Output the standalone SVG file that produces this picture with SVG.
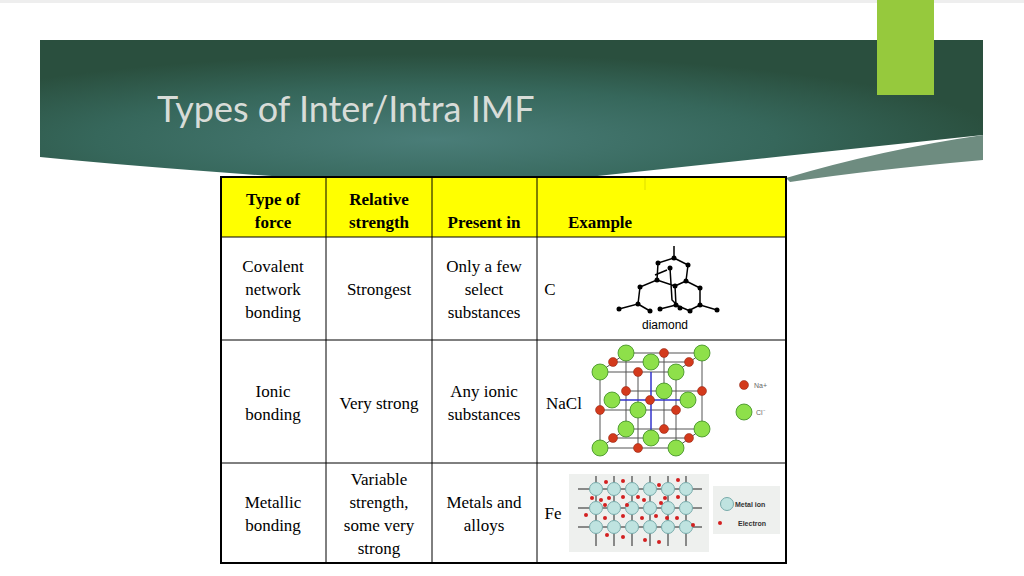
<svg xmlns="http://www.w3.org/2000/svg" width="1024" height="576" viewBox="0 0 1024 576">
<defs>
<radialGradient id="bg" cx="0.42" cy="0.7" r="0.6">
<stop offset="0" stop-color="#4a7d78"/><stop offset="0.6" stop-color="#36675b"/><stop offset="1" stop-color="#2a4f3e"/>
</radialGradient>
<style>
.t{font-family:"Liberation Serif",serif;font-size:17px;fill:#000;text-anchor:middle}
.b{font-weight:bold}
.g{stroke:#000;stroke-width:1.5;fill:none}
.na{fill:#d33a1c;stroke:#8a2010;stroke-width:0.5}
.cl{fill:#8ee04a;stroke:#3a8a20;stroke-width:0.8}
.mi{fill:#bfe3e0;stroke:#7aa}
.el{fill:#d32020}
</style>
</defs>
<rect width="1024" height="576" fill="#fff"/>
<rect x="0" y="0" width="1024" height="3" fill="#eee"/>
<path d="M40 40 H983 V135 Q700 165 560 180 Q400 185 330 180 Q150 168 40 157 Z" fill="url(#bg)"/>
<path d="M983 135 V160 Q870 170 790 182 L786 178 Q880 150 983 135 Z" fill="#6e8c80"/>
<rect x="877" y="0" width="57" height="95" fill="#96c93d"/>
<text x="157" y="122" font-family="Lato, 'Liberation Sans', sans-serif" font-size="36" fill="#d8dcd8">Types of Inter/Intra IMF</text>
<g id="table">
<rect x="221" y="177" width="565" height="60" fill="#ffff00"/>
<rect x="221" y="237" width="565" height="326" fill="#fff"/>
<g stroke="#000" stroke-width="1">
<line x1="326" y1="177" x2="326" y2="563"/><line x1="432" y1="177" x2="432" y2="563"/><line x1="537" y1="177" x2="537" y2="563"/>
<line x1="221" y1="237" x2="786" y2="237"/><line x1="221" y1="340" x2="786" y2="340"/><line x1="221" y1="463" x2="786" y2="463"/>
<line x1="645" y1="177" x2="645" y2="190" stroke="#dd0"/>
</g>
<rect x="221" y="177" width="565" height="386" fill="none" stroke="#000" stroke-width="2"/>
</g>
<g id="header">
<text class="t b" x="273" y="205">Type of</text><text class="t b" x="273" y="228">force</text>
<text class="t b" x="379" y="205">Relative</text><text class="t b" x="379" y="228">strength</text>
<text class="t b" x="484" y="228">Present in</text>
<text class="t b" x="600" y="228">Example</text>
</g>
<g id="row1">
<text class="t" x="273" y="272">Covalent</text><text class="t" x="273" y="295">network</text><text class="t" x="273" y="318">bonding</text>
<text class="t" x="379" y="295">Strongest</text>
<text class="t" x="484" y="272">Only a few</text><text class="t" x="484" y="295">select</text><text class="t" x="484" y="318">substances</text>
<text class="t" x="550" y="295">C</text>
<g class="g">
<path d="M674 246 V258 L658 263 L657 280 L640 287 L638 304 L619 309 M638 304 L650 311 M657 280 L675 286 L676 305 L690 311 M674 258 L688 265 L686 281 L700 288 L700 305 L717 310 M675 286 L686 281 M670 268 L672 300 L680 308 M676 305 L660 309 M655 275 L667 270 M700 305 L690 310"/>
</g>
<g fill="#000"><circle cx="674" cy="258" r="2.5"/><circle cx="658" cy="263" r="2.5"/><circle cx="688" cy="265" r="2.5"/><circle cx="657" cy="280" r="2.5"/><circle cx="675" cy="286" r="2.5"/><circle cx="686" cy="281" r="2.5"/><circle cx="640" cy="287" r="2.5"/><circle cx="700" cy="288" r="2.5"/><circle cx="638" cy="304" r="2.5"/><circle cx="676" cy="305" r="2.5"/><circle cx="700" cy="305" r="2.5"/><circle cx="619" cy="309" r="2.5"/><circle cx="717" cy="310" r="2.5"/><circle cx="650" cy="311" r="2.5"/><circle cx="660" cy="309" r="2.5"/><circle cx="690" cy="311" r="2.5"/><circle cx="680" cy="308" r="2.5"/><circle cx="670" cy="268" r="2.5"/></g>
<text x="665" y="329" font-family="'Liberation Sans',sans-serif" font-size="12" text-anchor="middle">diamond</text>
</g>
<g id="row2">
<text class="t" x="273" y="397">Ionic</text><text class="t" x="273" y="420">bonding</text>
<text class="t" x="379" y="409">Very strong</text>
<text class="t" x="484" y="397">Any ionic</text><text class="t" x="484" y="420">substances</text>
<text class="t" x="564" y="409">NaCl</text>
<g stroke="#555" stroke-width="1" fill="none">
<rect x="600" y="372" width="76" height="76"/><rect x="626" y="353" width="76" height="76"/>
<line x1="600" y1="372" x2="626" y2="353"/><line x1="676" y1="372" x2="702" y2="353"/><line x1="600" y1="448" x2="626" y2="429"/><line x1="676" y1="448" x2="702" y2="429"/>
<line x1="638" y1="372" x2="638" y2="448"/><line x1="600" y1="410" x2="676" y2="410"/><line x1="664" y1="353" x2="664" y2="429"/><line x1="626" y1="391" x2="702" y2="391"/>
<line x1="613" y1="362" x2="689" y2="362"/><line x1="613" y1="438" x2="689" y2="438"/>
</g>
<g stroke="#33c" stroke-width="1.5"><line x1="651" y1="372" x2="651" y2="438"/><line x1="613" y1="400" x2="689" y2="400"/></g>
<circle class="cl" cx="600" cy="448" r="8"/><circle class="cl" cx="676" cy="448" r="8"/><circle class="cl" cx="600" cy="372" r="8"/><circle class="cl" cx="676" cy="372" r="8"/>
<circle class="cl" cx="626" cy="353" r="8"/><circle class="cl" cx="702" cy="353" r="8"/><circle class="cl" cx="702" cy="429" r="8"/><circle class="cl" cx="626" cy="429" r="8"/>
<circle class="cl" cx="664" cy="391" r="8"/><circle class="cl" cx="612" cy="400" r="8"/><circle class="cl" cx="638" cy="410" r="8"/><circle class="cl" cx="688" cy="400" r="8"/><circle class="cl" cx="651" cy="438" r="8"/><circle class="cl" cx="651" cy="362" r="8"/>
<circle class="na" cx="664" cy="353" r="4.5"/><circle class="na" cx="613" cy="362" r="4.5"/><circle class="na" cx="689" cy="362" r="4.5"/><circle class="na" cx="638" cy="372" r="4.5"/><circle class="na" cx="626" cy="391" r="4.5"/><circle class="na" cx="702" cy="391" r="4.5"/><circle class="na" cx="650" cy="400" r="4.5"/><circle class="na" cx="600" cy="410" r="4.5"/><circle class="na" cx="676" cy="410" r="4.5"/><circle class="na" cx="664" cy="429" r="4.5"/><circle class="na" cx="613" cy="438" r="4.5"/><circle class="na" cx="689" cy="438" r="4.5"/><circle class="na" cx="638" cy="448" r="4.5"/>
<circle class="na" cx="744" cy="385" r="4.5"/><circle class="cl" cx="744" cy="412" r="8"/>
<text x="754" y="388" font-family="'Liberation Sans',sans-serif" font-size="7" fill="#666">Na+</text>
<text x="756" y="415" font-family="'Liberation Sans',sans-serif" font-size="7" fill="#666">Cl⁻</text>
</g>
<g id="row3">
<text class="t" x="273" y="508">Metallic</text><text class="t" x="273" y="531">bonding</text>
<text class="t" x="379" y="485">Variable</text><text class="t" x="379" y="508">strength,</text><text class="t" x="379" y="531">some very</text><text class="t" x="379" y="554">strong</text>
<text class="t" x="484" y="508">Metals and</text><text class="t" x="484" y="531">alloys</text>
<text class="t" x="553" y="519">Fe</text>
<rect x="569" y="474" width="140" height="78" fill="#eef0ee"/>
<rect x="713" y="486" width="67" height="48" fill="#eef0ee"/>
<g stroke="#222" stroke-width="1">
<line x1="578" y1="489" x2="702" y2="489"/><line x1="578" y1="508" x2="702" y2="508"/><line x1="578" y1="527" x2="702" y2="527"/>
<line x1="596" y1="476" x2="596" y2="546"/><line x1="614" y1="476" x2="614" y2="546"/><line x1="632" y1="476" x2="632" y2="546"/><line x1="650" y1="476" x2="650" y2="546"/><line x1="668" y1="476" x2="668" y2="546"/><line x1="686" y1="476" x2="686" y2="546"/>
</g>
<g class="mi">
<circle cx="596" cy="489" r="6.5"/><circle cx="614" cy="489" r="6.5"/><circle cx="632" cy="489" r="6.5"/><circle cx="650" cy="489" r="6.5"/><circle cx="668" cy="489" r="6.5"/><circle cx="686" cy="489" r="6.5"/>
<circle cx="596" cy="508" r="6.5"/><circle cx="614" cy="508" r="6.5"/><circle cx="632" cy="508" r="6.5"/><circle cx="650" cy="508" r="6.5"/><circle cx="668" cy="508" r="6.5"/><circle cx="686" cy="508" r="6.5"/>
<circle cx="596" cy="527" r="6.5"/><circle cx="614" cy="527" r="6.5"/><circle cx="632" cy="527" r="6.5"/><circle cx="650" cy="527" r="6.5"/><circle cx="668" cy="527" r="6.5"/><circle cx="686" cy="527" r="6.5"/>
<circle cx="727" cy="504" r="6.5"/>
</g>
<g class="el">
<circle cx="606" cy="482" r="2"/><circle cx="623" cy="481" r="2"/><circle cx="659" cy="485" r="2"/><circle cx="678" cy="480" r="2"/><circle cx="592" cy="498" r="2"/><circle cx="601" cy="500" r="2"/><circle cx="609" cy="498" r="2"/><circle cx="623" cy="497" r="2"/><circle cx="638" cy="497" r="2"/><circle cx="644" cy="500" r="2"/><circle cx="665" cy="498" r="2"/><circle cx="678" cy="497" r="2"/><circle cx="605" cy="505" r="2"/><circle cx="627" cy="505" r="2"/><circle cx="661" cy="503" r="2"/><circle cx="586" cy="515" r="2"/><circle cx="605" cy="518" r="2"/><circle cx="623" cy="516" r="2"/><circle cx="642" cy="518" r="2"/><circle cx="656" cy="516" r="2"/><circle cx="667" cy="518" r="2"/><circle cx="677" cy="518" r="2"/><circle cx="693" cy="525" r="2"/><circle cx="607" cy="535" r="2"/><circle cx="623" cy="537" r="2"/><circle cx="645" cy="540" r="2"/><circle cx="659" cy="542" r="2"/><circle cx="720" cy="523" r="2"/>
</g>
<text x="735" y="507" font-family="'Liberation Sans',sans-serif" font-size="7" font-weight="bold" fill="#333">Metal ion</text>
<text x="738" y="526" font-family="'Liberation Sans',sans-serif" font-size="7" font-weight="bold" fill="#333">Electron</text>
</g>
</svg>
